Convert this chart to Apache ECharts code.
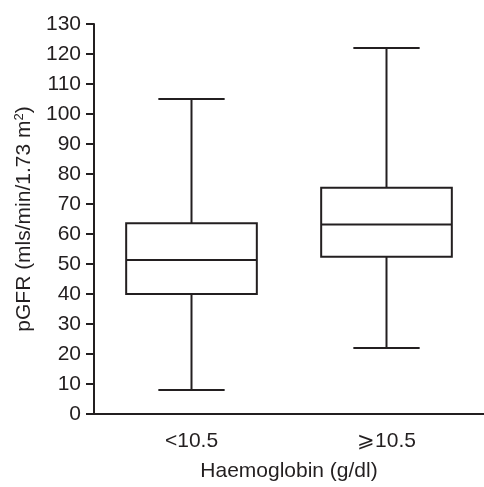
<!DOCTYPE html>
<html>
<head>
<meta charset="utf-8">
<script src="https://cdn.jsdelivr.net/npm/echarts@6/dist/echarts.min.js"></script>
<style>html,body{margin:0;padding:0;background:#fff}#c{width:484px;height:487px}</style>
</head>
<body>
<div id="c"></div>
<script>
var categories = ['<10.5', '\u2A7E10.5'];
var mins = [8, 22];
var q1s = [40, 52.4];
var medians = [51.3, 63.2];
var q3s = [63.6, 75.4];
var maxs = [105, 122];
var yTicks = [0, 10, 20, 30, 40, 50, 60, 70, 80, 90, 100, 110, 120, 130];

var INK = '#231f20';
var FONT = '"Liberation Sans", Arial, Helvetica, sans-serif';

var data = categories.map(function (c, i) {
  return [i, mins[i], q1s[i], medians[i], q3s[i], maxs[i]];
});

var chart = echarts.init(document.getElementById('c'), null, {renderer: 'canvas'});
chart.setOption({
  animation: false,
  backgroundColor: '#fff',
  grid: {left: 94, right: -4, top: 24, bottom: 69, containLabel: false},
  xAxis: {
    type: 'category',
    data: categories,
    name: 'Haemoglobin (g/dl)',
    nameLocation: 'middle',
    nameGap: 47,
    nameTextStyle: {color: INK, fontSize: 21, fontFamily: FONT},
    axisLine: {lineStyle: {color: INK, width: 2}},
    axisTick: {alignWithLabel: true, length: 8, lineStyle: {color: INK, width: 2}},
    axisLabel: {color: INK, fontSize: 21, fontFamily: FONT, margin: 17},
    splitLine: {show: false}
  },
  yAxis: {
    type: 'value',
    min: yTicks[0],
    max: yTicks[yTicks.length - 1],
    interval: 10,
    name: '{a|pGFR (mls/min/1.73 m}{s|2}{a|)}',
    nameLocation: 'middle',
    nameGap: 57,
    nameTextStyle: {
      color: INK, fontSize: 21, fontFamily: FONT,
      rich: {
        a: {color: INK, fontSize: 21, fontFamily: FONT},
        s: {color: INK, fontSize: 13, fontFamily: FONT, verticalAlign: 'top', padding: [0, 0, 10, 0]}
      }
    },
    axisLine: {show: true, lineStyle: {color: INK, width: 2}},
    axisTick: {show: true, length: 8, lineStyle: {color: INK, width: 2}},
    axisLabel: {color: INK, fontSize: 21, fontFamily: FONT, margin: 13},
    splitLine: {show: false}
  },
  series: [{
    type: 'custom',
    data: data,
    encode: {x: 0, y: [1, 2, 3, 4, 5]},
    renderItem: function (params, api) {
      var idx = api.value(0);
      var band = api.size([1, 0])[0];
      var cx = api.coord([idx, 0])[0];
      var hw = band * 0.335;
      var cw = band * 0.17;
      var yMin = api.coord([idx, api.value(1)])[1];
      var yQ1 = api.coord([idx, api.value(2)])[1];
      var yMed = api.coord([idx, api.value(3)])[1];
      var yQ3 = api.coord([idx, api.value(4)])[1];
      var yMax = api.coord([idx, api.value(5)])[1];
      var ls = {stroke: INK, lineWidth: 2, fill: null};
      return {
        type: 'group',
        children: [
          {type: 'line', shape: {x1: cx, y1: yMax, x2: cx, y2: yQ3}, style: ls},
          {type: 'line', shape: {x1: cx, y1: yQ1, x2: cx, y2: yMin}, style: ls},
          {type: 'line', shape: {x1: cx - cw, y1: yMax, x2: cx + cw, y2: yMax}, style: ls},
          {type: 'line', shape: {x1: cx - cw, y1: yMin, x2: cx + cw, y2: yMin}, style: ls},
          {type: 'rect', shape: {x: cx - hw, y: yQ3, width: 2 * hw, height: yQ1 - yQ3}, style: {stroke: INK, lineWidth: 2, fill: '#fff'}},
          {type: 'line', shape: {x1: cx - hw, y1: yMed, x2: cx + hw, y2: yMed}, style: ls}
        ]
      };
    }
  }]
});
</script>
</body>
</html>
